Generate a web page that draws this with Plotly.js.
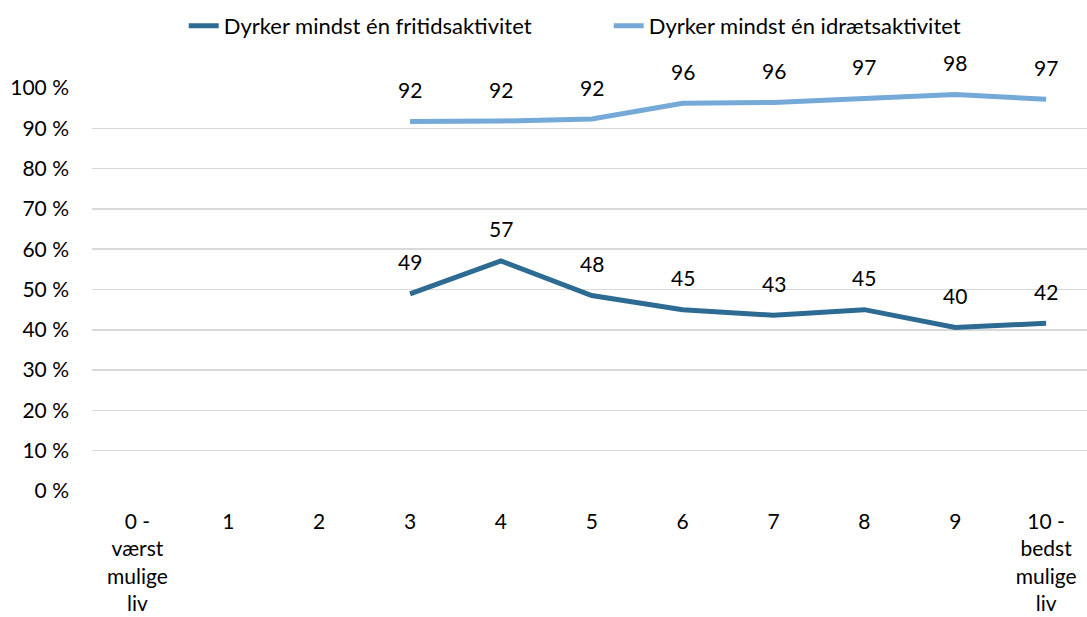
<!DOCTYPE html>
<html>
<head>
<meta charset="utf-8">
<script src="https://cdn.plot.ly/plotly-3.0.1.min.js"></script>
<style>html,body{margin:0;padding:0;background:#fff}#chart{width:1087px;height:617px}</style>
</head>
<body>
<div id="chart"></div>
<script>
const categories = ["0", "1", "2", "3", "4", "5", "6", "7", "8", "9", "10"];
const tickLabels = ["0 -<br>værst<br>mulige<br>liv", "1", "2", "3", "4", "5", "6", "7", "8", "9", "10 -<br>bedst<br>mulige<br>liv"];
const seriesNames = ["Dyrker mindst én fritidsaktivitet", "Dyrker mindst én idrætsaktivitet"];
const fritid = [null, null, null, 48.9, 57.1, 48.5, 45.0, 43.6, 45.0, 40.6, 41.6];
const idraet = [null, null, null, 91.7, 91.8, 92.3, 96.2, 96.4, 97.4, 98.4, 97.2];
const fritidLabels = [null, null, null, "49", "57", "48", "45", "43", "45", "40", "42"];
const idraetLabels = [null, null, null, "92", "92", "92", "96", "96", "97", "98", "97"];
const yTicks = [0, 10, 20, 30, 40, 50, 60, 70, 80, 90, 100];

const FONT = "Lato, Open Sans, sans-serif";
const colors = ["#2e6b93", "#75a9d8"];

const traces = [
  {x: categories, y: fritid, name: seriesNames[0], mode: "lines", line: {color: colors[0], width: 5}, connectgaps: false, hoverinfo: "skip"},
  {x: categories, y: idraet, name: seriesNames[1], mode: "lines", line: {color: colors[1], width: 5}, connectgaps: false, hoverinfo: "skip"}
];

const annotations = [];
[[fritid, fritidLabels], [idraet, idraetLabels]].forEach(([vals, labs]) => {
  vals.forEach((v, i) => {
    if (v === null) return;
    annotations.push({x: categories[i], y: v, text: labs[i], showarrow: false, yshift: 32,
      xanchor: "center", yanchor: "middle", font: {family: FONT, size: 21, color: "#000"}});
  });
});

const layout = {
  width: 1087, height: 617,
  margin: {l: 92, r: 0, t: 88, b: 126},
  paper_bgcolor: "#fff", plot_bgcolor: "#fff",
  font: {family: FONT, size: 21, color: "#000"},
  showlegend: true,
  legend: {orientation: "h", xref: "container", yref: "container", x: 0.56, xanchor: "center", y: 0.958, yanchor: "middle",
    font: {family: FONT, size: 22, color: "#000"}, entrywidth: 380, tracegroupgap: 0},
  xaxis: {type: "category", range: [-0.5, 10.45], tickvals: categories, ticktext: tickLabels,
    showgrid: false, zeroline: false, showline: false, ticks: "", ticklabelstandoff: 16,
    tickfont: {family: FONT, size: 21, color: "#000"}},
  yaxis: {range: [0, 100], tickvals: yTicks, ticktext: yTicks.map(v => v + " %"),
    showgrid: true, gridcolor: "#d9d9d9", gridwidth: 1.5, zeroline: false, showline: false, ticks: "",
    ticklabelstandoff: 22, tickfont: {family: FONT, size: 21, color: "#000"}},
  annotations: annotations
};

Plotly.newPlot("chart", traces, layout, {displayModeBar: false, staticPlot: true});
</script>
</body>
</html>
